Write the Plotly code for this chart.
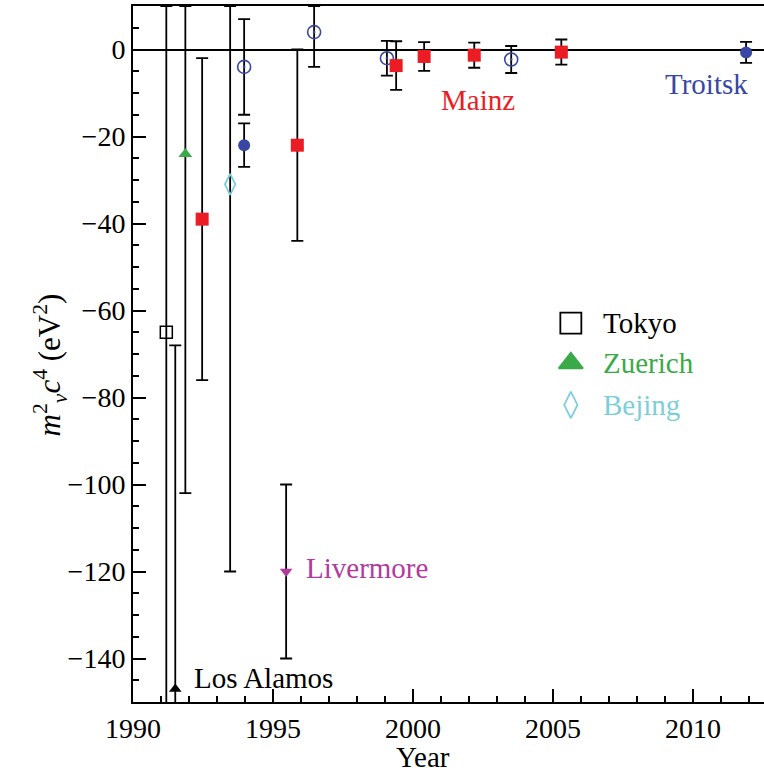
import plotly.graph_objects as go

# ---------------- data ----------------
tokyo_year = [1991.19]
tokyo_val = [-65]
tokyo_err_plus = [75]
tokyo_err_minus = [90]

losalamos_year = [1991.51]
losalamos_val = [-147]
losalamos_err_plus = [79]
losalamos_err_minus = [79]

zuerich_year = [1991.87]
zuerich_val = [-24]
zuerich_err_plus = [34]
zuerich_err_minus = [78]

mainz_year = [1992.47, 1995.87, 1999.40, 2000.40, 2002.19, 2005.30]
mainz_val = [-39, -22, -3.7, -1.6, -1.3, -0.6]
mainz_err = [37, 22, 5.6, 3.3, 2.9, 2.9]

bejing_year = [1993.47]
bejing_val = [-31]
bejing_err_plus = [41]
bejing_err_minus = [89]

troitsk_open_year = [1993.97, 1996.47, 1999.07, 2003.51]
troitsk_open_val = [-4, 4, -2, -2.3]
troitsk_open_err_plus = [11, 6, 4, 3.1]
troitsk_open_err_minus = [11, 8, 4, 3.1]

troitsk_fill_year = [1993.97, 2011.90]
troitsk_fill_val = [-22, -0.67]
troitsk_fill_err = [5, 2.4]

livermore_year = [1995.47]
livermore_val = [-120]
livermore_err = [20]

legend_names = ["Tokyo", "Zuerich", "Bejing"]

# ---------------- styles ----------------
FONT = "Liberation Serif"
RED = "#ec1c24"
BLUE = "#3846a4"
GREEN = "#39aa47"
CYAN = "#7ccfd8"
MAGENTA = "#b23a9e"
BLACK = "#000000"

def ebar(plus, minus=None):
    d = dict(type="data", array=plus, color=BLACK, thickness=1.8, width=6, visible=True)
    if minus is not None:
        d["symmetric"] = False
        d["arrayminus"] = minus
    return d

fig = go.Figure()

fig.add_trace(go.Scatter(x=tokyo_year, y=tokyo_val, mode="markers",
    error_y=ebar(tokyo_err_plus, tokyo_err_minus),
    marker=dict(symbol="square-open", size=12, color=BLACK, line=dict(width=1.5, color=BLACK))))
fig.add_trace(go.Scatter(x=losalamos_year, y=losalamos_val, mode="markers",
    error_y=ebar(losalamos_err_plus, losalamos_err_minus),
    marker=dict(symbol="triangle-up", size=11, color=BLACK)))
fig.add_trace(go.Scatter(x=zuerich_year, y=zuerich_val, mode="markers",
    error_y=ebar(zuerich_err_plus, zuerich_err_minus),
    marker=dict(symbol="triangle-up", size=12, color=GREEN)))
fig.add_trace(go.Scatter(x=bejing_year, y=bejing_val, mode="markers",
    error_y=ebar(bejing_err_plus, bejing_err_minus),
    marker=dict(symbol="diamond-tall-open", size=15, color=CYAN, line=dict(width=1.8, color=CYAN))))
fig.add_trace(go.Scatter(x=livermore_year, y=livermore_val, mode="markers",
    error_y=ebar(livermore_err),
    marker=dict(symbol="triangle-down", size=11, color=MAGENTA)))
fig.add_trace(go.Scatter(x=troitsk_open_year, y=troitsk_open_val, mode="markers",
    error_y=ebar(troitsk_open_err_plus, troitsk_open_err_minus),
    marker=dict(symbol="circle-open-dot", size=13, color=BLUE, line=dict(width=1.6, color=BLUE))))
fig.add_trace(go.Scatter(x=troitsk_fill_year, y=troitsk_fill_val, mode="markers",
    error_y=ebar(troitsk_fill_err),
    marker=dict(symbol="circle", size=12, color=BLUE)))
fig.add_trace(go.Scatter(x=mainz_year, y=mainz_val, mode="markers",
    error_y=ebar(mainz_err),
    marker=dict(symbol="square", size=13, color=RED)))

# legend drawn as markers + labels
LEG_X = 2005.64
LEG_TEXT_X = 2006.71
LEG_Y = [-62.9, -72.1, -81.7]
leg_symbols = ["square-open", "triangle-up", "diamond-tall-open"]
leg_colors = [BLACK, GREEN, CYAN]
leg_sizes = [21, 21, 19]
for name, sym, col, sz, yy in zip(legend_names, leg_symbols, leg_colors, leg_sizes, LEG_Y):
    fig.add_trace(go.Scatter(x=[LEG_X], y=[yy], mode="markers",
        marker=dict(symbol=sym, size=sz, color=col, line=dict(width=1.8, color=col))))
    fig.add_annotation(x=LEG_TEXT_X, y=yy, text=name, showarrow=False, xanchor="left",
        yanchor="middle", font=dict(family=FONT, size=29, color=col))

labels = [("Mainz", 2000.94, -11.7, RED), ("Troitsk", 2008.94, -8.0, BLUE),
          ("Livermore", 1996.12, -119.2, MAGENTA), ("Los Alamos", 1992.12, -144.5, BLACK)]
for t, xx, yy, col in labels:
    fig.add_annotation(x=xx, y=yy, text=t, showarrow=False, xanchor="left", yanchor="middle",
        font=dict(family=FONT, size=29, color=col))

# axis titles
fig.add_annotation(xref="paper", yref="paper", x=0.46, y=-0.1055, text="Year", showarrow=False,
    xanchor="center", yanchor="bottom", font=dict(family=FONT, size=29, color=BLACK))
fig.add_annotation(xref="paper", yref="paper", x=-0.131, y=0.484,
    text="<i>m</i><sup>2</sup><sub><i>ν</i></sub><i>c</i><sup>4</sup> (eV<sup>2</sup>)",
    showarrow=False, textangle=-90, xanchor="center", yanchor="middle",
    font=dict(family=FONT, size=31, color=BLACK))

fig.update_layout(
    width=764, height=776, autosize=False,
    margin=dict(l=133, r=0, t=6, b=74),
    paper_bgcolor="white", plot_bgcolor="white",
    showlegend=False,
    font=dict(family=FONT, size=28, color=BLACK),
    xaxis=dict(range=[1990, 2012.54], showgrid=False, zeroline=False,
        showline=True, linecolor=BLACK, linewidth=2, mirror=True,
        ticks="inside", ticklen=13, tickwidth=1.5, tickcolor=BLACK, dtick=5, tick0=1990,
        minor=dict(dtick=1, ticks="inside", ticklen=6, tickwidth=1.5, tickcolor=BLACK),
        tickfont=dict(family=FONT, size=28, color=BLACK)),
    yaxis=dict(range=[-150, 10], showgrid=False, zeroline=True, zerolinecolor=BLACK,
        zerolinewidth=1.8, showline=True, linecolor=BLACK, linewidth=2, mirror=False,
        ticks="inside", ticklen=13, tickwidth=1.5, tickcolor=BLACK, dtick=20, tick0=0,
        minor=dict(dtick=5, ticks="inside", ticklen=6, tickwidth=1.5, tickcolor=BLACK),
        tickfont=dict(family=FONT, size=28, color=BLACK)),
)

fig.write_html("out.html", config={"displayModeBar": False},
    post_script="document.body.style.margin='0';document.body.style.overflow='hidden';")
